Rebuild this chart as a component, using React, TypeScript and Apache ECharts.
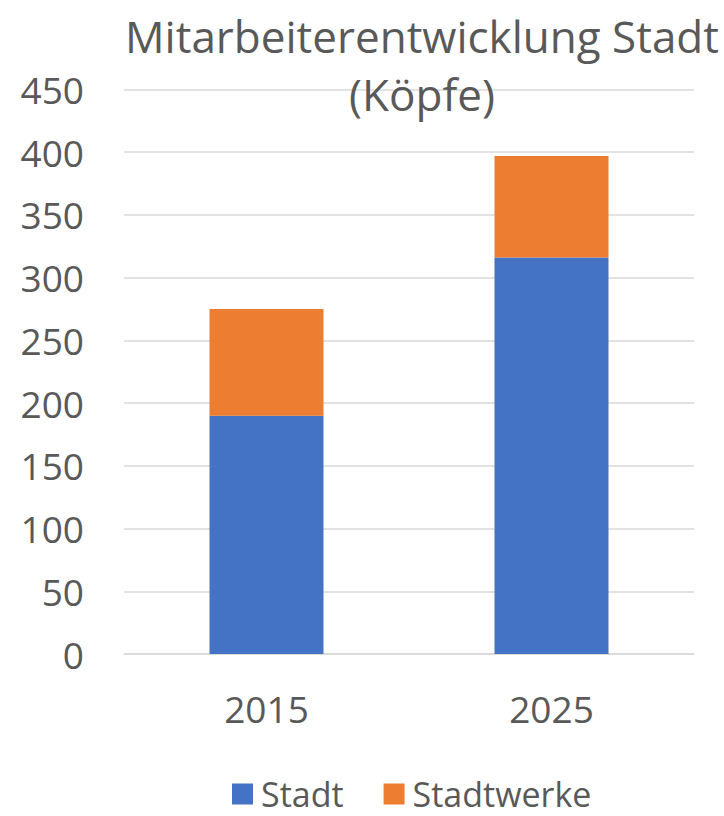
import React, { useEffect, useRef } from "react";
import * as echarts from "echarts";

const categories = ["2015", "2025"];
const stadtValues = [190, 316];
const stadtwerkeValues = [85, 81];
const seriesNames = ["Stadt", "Stadtwerke"];
const titleText = "Mitarbeiterentwicklung Stadt\n(Köpfe)";

const FONT = "'Open Sans', 'Noto Sans', sans-serif";
const TEXT = "#595959";

export default function App() {
  const ref = useRef<HTMLDivElement>(null);
  useEffect(() => {
    if (!ref.current) return;
    const chart = echarts.init(ref.current, undefined, { renderer: "svg" });
    chart.setOption({
      animation: false,
      textStyle: { fontFamily: FONT },
      title: {
        text: titleText,
        left: 417,
        top: 2,
        textAlign: "center",
        textStyle: { fontFamily: FONT, fontSize: 44, fontWeight: "normal", color: TEXT, lineHeight: 58 },
      },
      legend: {
        top: 774,
        left: 232,
        padding: 0,
        itemWidth: 21,
        itemHeight: 21,
        itemGap: 40,
        icon: "rect",
        textStyle: { fontFamily: FONT, fontSize: 34, color: TEXT, lineHeight: 40, padding: [0, 0, 0, 3] },
        data: seriesNames,
      },
      grid: { left: 124, right: 30, top: 89.5, bottom: 162, containLabel: false },
      xAxis: {
        type: "category",
        data: categories,
        axisLine: { lineStyle: { color: "#d9d9d9", width: 1.5 } },
        axisTick: { show: false },
        axisLabel: { fontFamily: FONT, fontSize: 37, color: TEXT, margin: 36 },
      },
      yAxis: {
        type: "value",
        min: 0,
        max: 450,
        interval: 50,
        axisLine: { show: false },
        axisTick: { show: false },
        splitLine: { lineStyle: { color: "#d9d9d9", width: 1.5 } },
        axisLabel: { fontFamily: FONT, fontSize: 37, color: TEXT, margin: 40 },
      },
      series: [
        {
          name: seriesNames[0],
          type: "bar",
          stack: "total",
          data: stadtValues,
          barWidth: "40%",
          itemStyle: { color: "#4472C4" },
        },
        {
          name: seriesNames[1],
          type: "bar",
          stack: "total",
          data: stadtwerkeValues,
          barWidth: "40%",
          itemStyle: { color: "#ED7D31" },
        },
      ],
    });
    return () => chart.dispose();
  }, []);
  return (
    <div
      ref={ref}
      style={{ position: "absolute", left: 0, top: 0, width: 724, height: 816, background: "#fff" }}
    />
  );
}
